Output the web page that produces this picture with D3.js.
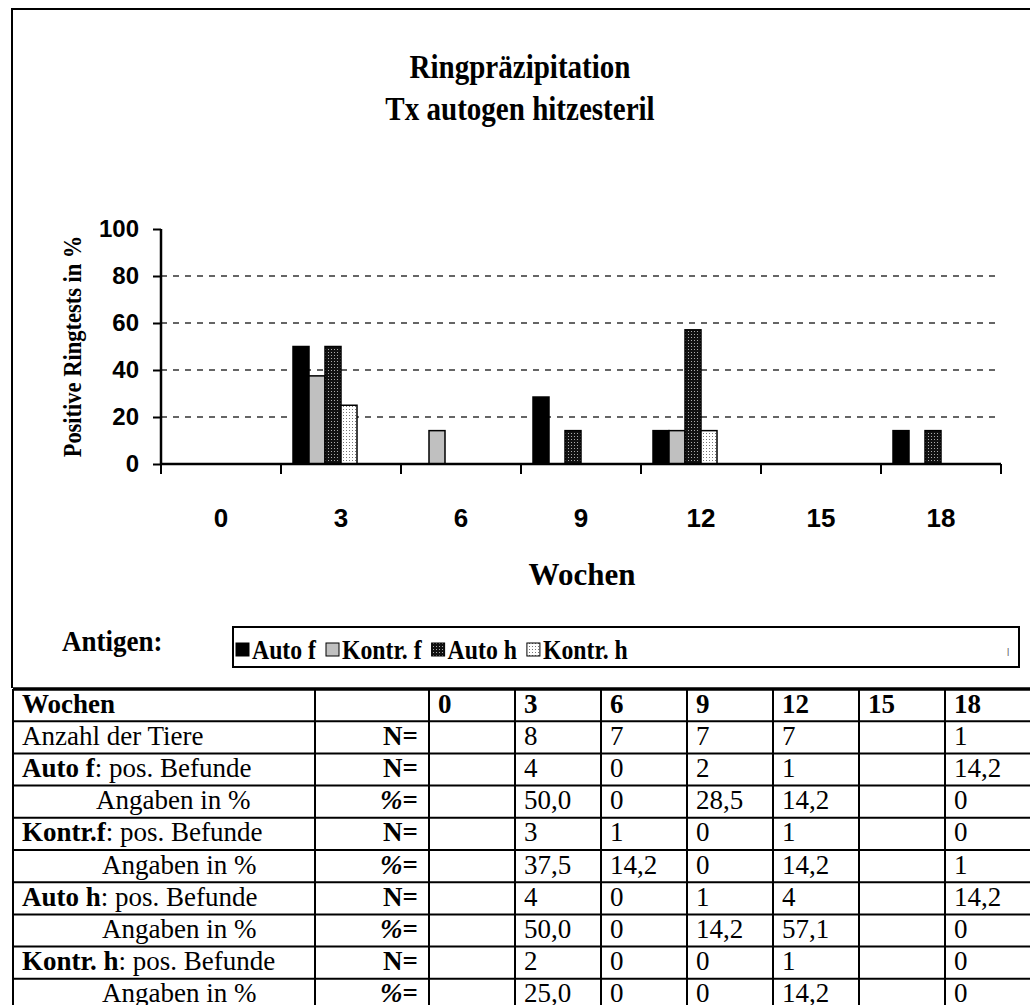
<!DOCTYPE html>
<html><head><meta charset="utf-8">
<script src="https://cdn.jsdelivr.net/npm/d3@7"></script>
<style>body{margin:0;background:#fff}svg{display:block}</style>
</head><body><svg id="c" width="1030" height="1005"></svg>
<script>
// weeks on the x axis and bar heights (positive ring tests in %)
const weeks = ["0", "3", "6", "9", "12", "15", "18"];
const seriesNames = ["Auto f", "Kontr. f", "Auto h", "Kontr. h"];
const autoF  = [0, 50, 0, 28.5, 14.2, 0, 14.2];
const kontrF = [0, 37.5, 14.2, 0, 14.2, 0, 0];
const autoH  = [0, 50, 0, 14.2, 57.1, 0, 14.2];
const kontrH = [0, 25, 0, 0, 14.2, 0, 0];
const yTicks = [0, 20, 40, 60, 80, 100];
const gridTicks = [20, 40, 60, 80];

// data table below the chart
const tableHeadLabel = "Wochen";
const rowLabels = ["Anzahl der Tiere", "Auto f: pos. Befunde", "Angaben in %", "Kontr.f: pos. Befunde",
  "Angaben in %", "Auto h: pos. Befunde", "Angaben in %", "Kontr. h: pos. Befunde", "Angaben in %"];
const rowUnits = ["N=", "N=", "%=", "N=", "%=", "N=", "%=", "N=", "%="];
const anzahl  = ["", "8", "7", "7", "7", "", "1"];
const autoFN  = ["", "4", "0", "2", "1", "", "14,2"];
const autoFP  = ["", "50,0", "0", "28,5", "14,2", "", "0"];
const kontrFN = ["", "3", "1", "0", "1", "", "0"];
const kontrFP = ["", "37,5", "14,2", "0", "14,2", "", "1"];
const autoHN  = ["", "4", "0", "1", "4", "", "14,2"];
const autoHP  = ["", "50,0", "0", "14,2", "57,1", "", "0"];
const kontrHN = ["", "2", "0", "0", "1", "", "0"];
const kontrHP = ["", "25,0", "0", "0", "14,2", "", "0"];
const tableRows = [anzahl, autoFN, autoFP, kontrFN, kontrFP, autoHN, autoHP, kontrHN, kontrHP];

const serif = "'Liberation Serif','Times New Roman',serif";
const sans = "'Liberation Sans',Arial,sans-serif";

const svg = d3.select("#c");

// fill patterns
const defs = svg.append("defs");
const pd = defs.append("pattern").attr("id", "patDark").attr("width", 3).attr("height", 3)
  .attr("patternUnits", "userSpaceOnUse");
pd.append("rect").attr("width", 3).attr("height", 3).attr("fill", "#111");
pd.append("rect").attr("x", 1).attr("y", 1).attr("width", 1).attr("height", 1).attr("fill", "#aaa");
const pl = defs.append("pattern").attr("id", "patLight").attr("width", 3).attr("height", 3)
  .attr("patternUnits", "userSpaceOnUse");
pl.append("rect").attr("width", 3).attr("height", 3).attr("fill", "#fff");
pl.append("rect").attr("x", 1).attr("y", 1).attr("width", 1).attr("height", 1).attr("fill", "#777");
const fills = ["#000", "#c0c0c0", "url(#patDark)", "url(#patLight)"];

// condensed bold serif text (narrow chart typeface)
function narrowText(x, yPos, size, sx, str, anchor) {
  return svg.append("text").attr("transform", `translate(${x},${yPos}) scale(${sx},1)`)
    .attr("text-anchor", anchor || "start").style("font", `bold ${size}px ${serif}`).text(str);
}

// chart frame (open to the right, closed by the table at the bottom)
svg.append("path").attr("d", "M1032,9H12V688").attr("fill", "none").attr("stroke", "#000").attr("stroke-width", 2);

// titles
narrowText(520, 78, 33, 0.88, "Ringpräzipitation", "middle");
narrowText(520, 120, 33, 0.88, "Tx autogen hitzesteril", "middle");

// scales
const x0 = d3.scaleBand().domain(weeks).range([161, 1001]);
// every week holds six bar slots; only the first four carry a series
const x1 = d3.scaleBand().domain(d3.range(6)).range([0, x0.bandwidth()]).paddingOuter(0.75);
const y = d3.scaleLinear().domain([0, 100]).range([464, 229]);

// dashed gridlines
svg.append("g").selectAll("line").data(gridTicks).join("line")
  .attr("x1", 161).attr("x2", 1001).attr("y1", d => y(d)).attr("y2", d => y(d))
  .attr("stroke", "#333").attr("stroke-width", 1.5).attr("stroke-dasharray", "6,6");

// bars
const series = [autoF, kontrF, autoH, kontrH];
series.forEach((vals, si) => {
  svg.append("g").selectAll("rect").data(weeks.map((w, i) => ({ w, v: vals[i] })).filter(d => d.v > 0))
    .join("rect")
    .attr("x", d => x0(d.w) + x1(si)).attr("width", x1.bandwidth())
    .attr("y", d => y(d.v)).attr("height", d => y(0) - y(d.v))
    .attr("fill", fills[si]).attr("stroke", "#000").attr("stroke-width", 1.5);
});

// y axis
const yAxis = svg.append("g").attr("transform", "translate(161,0)")
  .call(d3.axisLeft(y).tickValues(yTicks).tickSize(8).tickPadding(14));
yAxis.select(".domain").attr("d", `M0,${y(100)}V${y(0)}`).attr("stroke-width", 2.5);
yAxis.selectAll(".tick line").attr("stroke-width", 2);
yAxis.selectAll("text").style("font", `bold 24px ${sans}`).attr("fill", "#000");

// x axis: ticks at category boundaries, labels centred
const bounds = weeks.map(w => x0(w)).concat([x0.range()[1]]);
svg.append("line").attr("x1", 161).attr("x2", 1001).attr("y1", y(0)).attr("y2", y(0))
  .attr("stroke", "#000").attr("stroke-width", 2.5);
svg.append("g").selectAll("line").data(bounds).join("line")
  .attr("x1", d => d).attr("x2", d => d).attr("y1", y(0)).attr("y2", y(0) + 10)
  .attr("stroke", "#000").attr("stroke-width", 2);
svg.append("g").selectAll("text").data(weeks).join("text")
  .attr("x", d => x0(d) + x0.bandwidth() / 2).attr("y", 527).attr("text-anchor", "middle")
  .style("font", `bold 26px ${sans}`).text(d => d);

// axis titles
svg.append("text").attr("transform", `translate(81,${(y(0) + y(100)) / 2}) rotate(-90) scale(0.9,1)`)
  .attr("text-anchor", "middle").style("font", `bold 25px ${serif}`).text("Positive Ringtests in %");
svg.append("text").attr("x", 582).attr("y", 585).attr("text-anchor", "middle")
  .style("font", `bold 31px ${serif}`).text("Wochen");

// legend
narrowText(62, 651, 30, 0.9, "Antigen:");
svg.append("rect").attr("x", 233).attr("y", 627).attr("width", 786).attr("height", 40)
  .attr("fill", "#fff").attr("stroke", "#000").attr("stroke-width", 2);
const legSx = 0.88;
let lx = 236;
seriesNames.forEach((name, si) => {
  svg.append("rect").attr("x", lx).attr("y", 643).attr("width", 13).attr("height", 13)
    .attr("fill", fills[si]).attr("stroke", "#000").attr("stroke-width", 1);
  const t = narrowText(lx + 16, 659, 27, legSx, name);
  lx += 16 + t.node().getComputedTextLength() * legSx + 10;
});
svg.append("text").attr("x", 1007).attr("y", 656).style("font", `10px ${sans}`).attr("fill", "#666").text("l");

// table
const rowH = 32.2, tableTop = 689;
const colX = [13, 315];
const xc = d3.scaleBand().domain(weeks).range([429, 1031]);
const nRows = rowLabels.length + 1;
const tg = svg.append("g");
d3.range(nRows + 1).forEach(k => {
  tg.append("line").attr("x1", 13).attr("x2", 1032).attr("y1", tableTop + k * rowH).attr("y2", tableTop + k * rowH)
    .attr("stroke", "#000").attr("stroke-width", k === 0 ? 3.5 : 2);
});
colX.concat(weeks.map(w => xc(w))).concat([xc.range()[1]]).forEach(cx => {
  tg.append("line").attr("x1", cx).attr("x2", cx).attr("y1", tableTop).attr("y2", tableTop + nRows * rowH)
    .attr("stroke", "#000").attr("stroke-width", 2);
});
const base = k => tableTop + k * rowH + 23.5;
const fs = 27;
tg.append("text").attr("x", 22).attr("y", base(0)).style("font", `bold ${fs}px ${serif}`).text(tableHeadLabel);
weeks.forEach(w => {
  tg.append("text").attr("x", xc(w) + 9).attr("y", base(0)).style("font", `bold ${fs}px ${serif}`).text(w);
});
rowLabels.forEach((lab, i) => {
  const k = i + 1;
  const t = tg.append("text").attr("y", base(k)).style("font", `${fs}px ${serif}`);
  const ci = lab.indexOf(":");
  if (ci >= 0) {
    t.attr("x", 22);
    t.append("tspan").style("font-weight", "bold").text(lab.slice(0, ci));
    t.append("tspan").text(lab.slice(ci));
  } else if (i === 0) {
    t.attr("x", 22).text(lab);
  } else {
    t.attr("x", i === 2 ? 96 : 102).text(lab);
  }
  const u = tg.append("text").attr("x", 418).attr("y", base(k)).attr("text-anchor", "end")
    .style("font", `bold ${fs}px ${serif}`);
  if (rowUnits[i][0] === "%") {
    u.append("tspan").style("font-style", "italic").text("%");
    u.append("tspan").text("=");
  } else u.text(rowUnits[i]);
  tableRows[i].forEach((v, j) => {
    if (v) tg.append("text").attr("x", xc(weeks[j]) + 9).attr("y", base(k)).style("font", `${fs}px ${serif}`).text(v);
  });
});
</script></body></html>
